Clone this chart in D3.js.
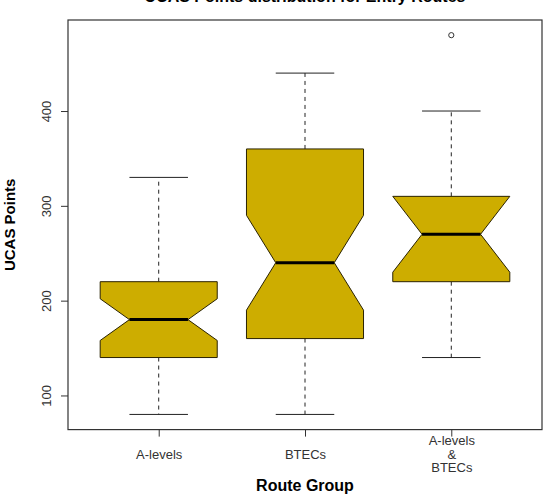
<!DOCTYPE html>
<html>
<head>
<meta charset="utf-8">
<script src="https://cdn.jsdelivr.net/npm/d3@7/dist/d3.min.js"></script>
<style>
  html, body { margin: 0; padding: 0; background: #fff; }
  svg { display: block; font-family: "Liberation Sans", Arial, Helvetica, sans-serif; }
</style>
</head>
<body>
<svg id="chart" width="552" height="499"></svg>
<script>
// ---- data ----
const categories = ["A-levels", "BTECs", "A-levels\n&\nBTECs"];
const whiskerLow  = [80, 80, 140];
const q1          = [140, 160, 220];
const medians     = [180, 240, 270];
const q3          = [220, 360, 310];
const whiskerHigh = [330, 440, 400];
const notchLow    = [158, 190, 230];
const notchHigh   = [202, 290, 310];
const outliers    = [[], [], [480]];
const yTicks      = [100, 200, 300, 400];
const titleText   = "UCAS Points distribution for Entry Routes";
const xTitle      = "Route Group";
const yTitle      = "UCAS Points";

(function () {
// ---- layout ----
const svg = d3.select("#chart");
const pLeft = 68, pRight = 542, pTop = 20, pBottom = 429.6;
const fillColor = "#CDAD00";

const x = d3.scaleLinear().domain([0.38, 3.62]).range([pLeft, pRight]);
const y = d3.scaleLinear().domain([64, 496]).range([pBottom, pTop]);

const boxHalf = 0.4;      // box width 0.8 units
const stapleHalf = 0.2;   // caps half the box width
const notchHalf = 0.2;    // notch narrows to half width

// title (partly cut off at top, as in reference)
svg.append("text")
  .attr("x", (pLeft + pRight) / 2).attr("y", 2)
  .attr("text-anchor", "middle")
  .attr("font-size", 16).attr("font-weight", "bold")
  .text(titleText);

// boxes
categories.forEach((c, i) => {
  const cx = i + 1;
  const g = svg.append("g");
  g.append("line")
    .attr("x1", x(cx)).attr("x2", x(cx))
    .attr("y1", y(q3[i])).attr("y2", y(whiskerHigh[i]))
    .attr("stroke", "#222").attr("stroke-dasharray", "4,4");
  g.append("line")
    .attr("x1", x(cx)).attr("x2", x(cx))
    .attr("y1", y(q1[i])).attr("y2", y(whiskerLow[i]))
    .attr("stroke", "#222").attr("stroke-dasharray", "4,4");
  [whiskerHigh[i], whiskerLow[i]].forEach(v => {
    g.append("line")
      .attr("x1", x(cx - stapleHalf)).attr("x2", x(cx + stapleHalf))
      .attr("y1", y(v)).attr("y2", y(v))
      .attr("stroke", "#222").attr("stroke-width", 1);
  });
  const pts = [
    [cx - boxHalf, q1[i]],
    [cx - boxHalf, notchLow[i]],
    [cx - notchHalf, medians[i]],
    [cx - boxHalf, notchHigh[i]],
    [cx - boxHalf, q3[i]],
    [cx + boxHalf, q3[i]],
    [cx + boxHalf, notchHigh[i]],
    [cx + notchHalf, medians[i]],
    [cx + boxHalf, notchLow[i]],
    [cx + boxHalf, q1[i]]
  ];
  g.append("path")
    .attr("d", d3.line().x(d => x(d[0])).y(d => y(d[1]))(pts) + "Z")
    .attr("fill", fillColor).attr("stroke", "#2a2200").attr("stroke-width", 1);
  g.append("line")
    .attr("x1", x(cx - notchHalf)).attr("x2", x(cx + notchHalf))
    .attr("y1", y(medians[i])).attr("y2", y(medians[i]))
    .attr("stroke", "#000").attr("stroke-width", 3);
  outliers[i].forEach(v => {
    g.append("circle")
      .attr("cx", x(cx)).attr("cy", y(v)).attr("r", 2.6)
      .attr("fill", "none").attr("stroke", "#333").attr("stroke-width", 1);
  });
});

// plot frame
svg.append("rect")
  .attr("x", pLeft).attr("y", pTop)
  .attr("width", pRight - pLeft).attr("height", pBottom - pTop)
  .attr("fill", "none").attr("stroke", "#333").attr("stroke-width", 1.2);

// y axis
const yAxis = svg.append("g")
  .attr("transform", `translate(${pLeft},0)`)
  .call(d3.axisLeft(y).tickValues(yTicks).tickSize(7).tickSizeOuter(0).tickFormat(d3.format("d")));
yAxis.select(".domain").remove();
yAxis.selectAll(".tick line").attr("stroke", "#333");
yAxis.selectAll(".tick text")
  .attr("x", 0).attr("y", 0).attr("dy", null)
  .attr("text-anchor", "middle")
  .attr("transform", "translate(-17,0) rotate(-90)")
  .attr("font-size", 13).attr("fill", "#333")
  .attr("font-family", "Liberation Sans, Arial, sans-serif");

// x axis
const xAxis = svg.append("g")
  .attr("transform", `translate(0,${pBottom})`)
  .call(d3.axisBottom(x).tickValues([1, 2, 3]).tickSize(7).tickSizeOuter(0).tickFormat((d, i) => categories[i]));
xAxis.select(".domain").remove();
xAxis.selectAll(".tick line").attr("stroke", "#333");
xAxis.selectAll(".tick text").each(function(d, i) {
  const t = d3.select(this);
  const lines = categories[i].split("\n");
  t.text(null).attr("y", 0).attr("dy", null)
    .attr("font-size", 13).attr("fill", "#333")
    .attr("font-family", "Liberation Sans, Arial, sans-serif");
  const spacing = 13.5;
  const base = 29.4 - (lines.length - 1) / 2 * spacing;
  lines.forEach((ln, k) => {
    t.append("tspan").attr("x", 0).attr("y", base + k * spacing).text(ln);
  });
});

// axis titles
svg.append("text")
  .attr("x", (pLeft + pRight) / 2).attr("y", 491)
  .attr("text-anchor", "middle")
  .attr("font-size", 16).attr("font-weight", "bold")
  .text(xTitle);
svg.append("text")
  .attr("transform", `translate(15,${(pTop + pBottom) / 2}) rotate(-90)`)
  .attr("text-anchor", "middle")
  .attr("font-size", 15).attr("font-weight", "bold")
  .text(yTitle);
})();
</script>
</body>
</html>
